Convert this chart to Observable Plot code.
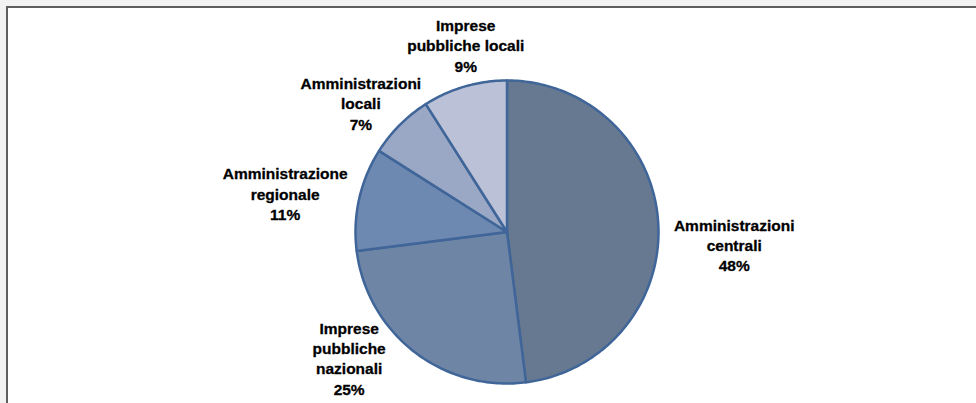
<!DOCTYPE html>
<html><head><meta charset="utf-8">
<script src="https://cdn.jsdelivr.net/npm/d3@7"></script>
<script src="https://cdn.jsdelivr.net/npm/@observablehq/plot@0.6"></script>
<style>
html,body{margin:0;padding:0;background:#f2f2f2;width:976px;height:403px;overflow:hidden}
#frame{position:absolute;left:6px;top:6px;width:1000px;height:500px;background:#fff;border-top:2px solid #5e5e5e;border-left:2px solid #5e5e5e}
#chart{position:absolute;left:0;top:0}
</style></head><body><div id="frame"></div><div id="chart"></div>
<script>
const categories = ["Amministrazioni centrali","Imprese pubbliche nazionali","Amministrazione regionale","Amministrazioni locali","Imprese pubbliche locali"];
const labelLines = ["Amministrazioni\ncentrali","Imprese\npubbliche\nnazionali","Amministrazione\nregionale","Amministrazioni\nlocali","Imprese\npubbliche locali"];
const values = [48, 25, 11, 7, 9];
const colors = ["#677990", "#6E85A6", "#6D88B1", "#9AA8C5", "#BBC1D7"];
const labelOffsets = [[76, 22], [-65, 6], [-74, -6], [-39, -22], [1, -42]];

const cx = 506.5, cy = 231.5, R = 151.5;

const arcs = d3.pie().sort(null).value(d => d)(values);
const pts = [];
arcs.forEach((p, i) => {
  const k = categories[i];
  const n = Math.max(2, Math.ceil((p.endAngle - p.startAngle) / (Math.PI / 180)));
  pts.push({k, x: 0, y: 0});
  for (let j = 0; j <= n; j++) {
    const a = p.startAngle + (p.endAngle - p.startAngle) * j / n;
    pts.push({k, x: Math.sin(a), y: Math.cos(a)});
  }
  pts.push({k, x: 0, y: 0});
});

const textMarks = arcs.map((p, i) => {
  const mid = (p.startAngle + p.endAngle) / 2;
  return Plot.text([{x: Math.sin(mid), y: Math.cos(mid), t: labelLines[i] + "\n" + values[i] + "%"}], {
    x: "x", y: "y", text: "t",
    dx: labelOffsets[i][0], dy: labelOffsets[i][1],
    fontSize: 15.5, fontWeight: "bold", fontFamily: "Liberation Sans, Arial, sans-serif",
    lineHeight: 1.32, fill: "#000", stroke: "#000", strokeWidth: 0.3, textAnchor: "middle", lineAnchor: "middle"
  });
});

const chart = Plot.plot({
  width: 976, height: 403, margin: 0,
  style: {background: "transparent"},
  x: {domain: [-1, 1], range: [cx - R, cx + R], axis: null},
  y: {domain: [-1, 1], range: [cy + R, cy - R], axis: null},
  color: {domain: categories, range: colors},
  marks: [
    Plot.line(pts, {x: "x", y: "y", z: "k", fill: "k", stroke: "#3F6599", strokeWidth: 2.5, strokeLinejoin: "round"}),
    ...textMarks
  ]
});
document.getElementById("chart").appendChild(chart);
</script>
</body></html>
